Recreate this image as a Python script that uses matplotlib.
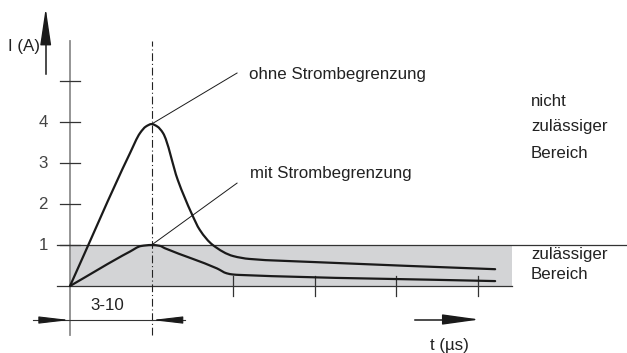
import matplotlib
matplotlib.use("Agg")
import matplotlib.pyplot as plt
from matplotlib import font_manager
from matplotlib.path import Path
from matplotlib.patches import PathPatch

# Current pulse without current limiting (t in units of the sketch, I in A)
t_ohne = [0.0, 0.735, 0.858, 0.93, 1.0, 1.07, 1.14, 1.32,
          1.49, 1.59, 1.75, 2.0, 2.2, 2.98, 5.21]
I_ohne = [0.0, 3.24, 3.73, 3.89, 3.95, 3.89, 3.73, 2.59,
          1.77, 1.37, 1.00, 0.73, 0.66, 0.585, 0.41]

# Current pulse with current limiting
t_mit = [0.0, 0.735, 0.87, 1.0, 1.10, 1.164, 1.50, 1.80, 1.92, 2.0, 2.08, 5.21]
I_mit = [0.0, 0.84, 0.975, 1.0, 0.98, 0.92, 0.665, 0.43, 0.31, 0.28, 0.27, 0.12]

# Axis ticks
I_ticks = [1, 2, 3, 4, 5]
I_tick_labels = ["1", "2", "3", "4", ""]
t_ticks = [2, 3, 4, 5]

t_peak = 1.0          # time of the peak (3-10 µs)
I_limit = 1.0         # upper limit of the permitted region
t_region_end = 5.42   # right end of the shaded region

available = {f.name for f in font_manager.fontManager.ttflist}
if "Liberation Sans Narrow" in available:
    FONT, FS = "Liberation Sans Narrow", 14.2
else:
    FONT, FS = "Liberation Sans", 12.2
TXT = "#222222"


def smooth_path(xs, ys):
    """Monotone cubic (PCHIP-style) Bezier path through every given point."""
    n = len(xs)
    h = [xs[k + 1] - xs[k] for k in range(n - 1)]
    d = [(ys[k + 1] - ys[k]) / h[k] for k in range(n - 1)]
    m = [0.0] * n
    m[0], m[-1] = d[0], d[-1]
    for k in range(1, n - 1):
        if d[k - 1] * d[k] <= 0:
            m[k] = 0.0
        else:
            w1 = 2 * h[k] + h[k - 1]
            w2 = h[k] + 2 * h[k - 1]
            m[k] = (w1 + w2) / (w1 / d[k - 1] + w2 / d[k])
    verts = [(xs[0], ys[0])]
    codes = [Path.MOVETO]
    for k in range(n - 1):
        verts += [(xs[k] + h[k] / 3, ys[k] + m[k] * h[k] / 3),
                  (xs[k + 1] - h[k] / 3, ys[k + 1] - m[k + 1] * h[k] / 3),
                  (xs[k + 1], ys[k + 1])]
        codes += [Path.CURVE4] * 3
    return Path(verts, codes)


fig = plt.figure(figsize=(6.27, 3.53), dpi=100)
ax = fig.add_axes([0, 0, 1, 1])
ax.set_xlim(-0.858, 6.826)
ax.set_ylim(-1.634, 6.976)
ax.axis("off")

# permitted region
ax.fill_between([0, t_region_end], 0, I_limit, color="#d3d4d6", lw=0, zorder=0)
ax.plot([-0.16, t_region_end], [0, 0], color="#333333", lw=0.9, zorder=2)
ax.plot([-0.16, 7.0], [I_limit, I_limit], color="#333333", lw=0.9, zorder=2)

# vertical gray axis and y ticks
ax.plot([0, 0], [-1.2, 5.98], color="#8c8c8c", lw=1.3, zorder=1)
for yv, lab in zip(I_ticks, I_tick_labels):
    ax.plot([-0.1225, 0.1225], [yv, yv], color="#333333", lw=0.9, zorder=2)
    if lab:
        ax.text(-0.27, yv, lab, ha="right", va="center", fontsize=FS,
                family=FONT, color="#444444")

# t ticks crossing the zero line
for tv in t_ticks:
    ax.plot([tv, tv], [-0.24, 0.24], color="#333333", lw=0.9, zorder=2)

# dash-dot line at the peak time
ax.plot([t_peak, t_peak], [-1.2, 5.98], color="#222222", lw=0.8,
        linestyle=(0, (7, 2.5, 1, 2.5)), zorder=2)

# curves
for xs, ys in ((t_ohne, I_ohne), (t_mit, I_mit)):
    ax.add_patch(PathPatch(smooth_path(xs, ys), facecolor="none",
                           edgecolor="#1a1a1a", lw=1.6, joinstyle="round",
                           capstyle="round", zorder=3))

# leader lines and labels
ax.plot([1.0, 2.047], [3.95, 5.195], color="#1a1a1a", lw=0.7, zorder=3)
ax.plot([1.0, 2.047], [1.0, 2.51], color="#1a1a1a", lw=0.7, zorder=3)
ax.text(2.19, 5.05, "ohne Strombegrenzung", ha="left", va="baseline",
        fontsize=FS, family=FONT, color=TXT)
ax.text(2.206, 2.63, "mit Strombegrenzung", ha="left", va="baseline",
        fontsize=FS, family=FONT, color=TXT)

for yb, s in zip([4.40, 3.77, 3.13], ["nicht", "zulässiger", "Bereich"]):
    ax.text(5.65, yb, s, ha="left", va="baseline", fontsize=FS, family=FONT, color=TXT)
for yb, s in zip([0.65, 0.16], ["zulässiger", "Bereich"]):
    ax.text(5.65, yb, s, ha="left", va="baseline", fontsize=FS, family=FONT, color=TXT)

# I axis arrow
ax.plot([-0.298, -0.298], [5.17, 6.2], color="#1a1a1a", lw=1.1)
ax.annotate("", xy=(-0.298, 6.78), xytext=(-0.298, 6.0),
            arrowprops=dict(arrowstyle="-|>,head_length=23,head_width=3.4",
                            mutation_scale=1, color="#1a1a1a", lw=1.0,
                            shrinkA=0, shrinkB=0))
ax.text(-0.368, 5.83, "I (A)", ha="right", va="center", fontsize=FS,
        family=FONT, color=TXT)

# dimension 3-10
ax.plot([-0.453, 1.41], [-0.83, -0.83], color="#333333", lw=0.8)
ax.annotate("", xy=(-0.005, -0.83), xytext=(-0.33, -0.83),
            arrowprops=dict(arrowstyle="-|>,head_length=18.7,head_width=2.2",
                            mutation_scale=1, color="#1a1a1a", lw=0.8,
                            shrinkA=0, shrinkB=0))
ax.annotate("", xy=(1.005, -0.83), xytext=(1.31, -0.83),
            arrowprops=dict(arrowstyle="-|>,head_length=18.7,head_width=2.2",
                            mutation_scale=1, color="#1a1a1a", lw=0.8,
                            shrinkA=0, shrinkB=0))
ax.text(0.46, -0.585, "3-10", ha="center", va="baseline", fontsize=FS,
        family=FONT, color=TXT)

# time arrow
ax.plot([4.23, 4.7], [-0.817, -0.817], color="#1a1a1a", lw=1.1)
ax.annotate("", xy=(5.02, -0.817), xytext=(4.6, -0.817),
            arrowprops=dict(arrowstyle="-|>,head_length=23,head_width=3.2",
                            mutation_scale=1, color="#1a1a1a", lw=1.0,
                            shrinkA=0, shrinkB=0))
ax.text(4.645, -1.56, "t (µs)", ha="center", va="baseline", fontsize=FS,
        family=FONT, color=TXT)

fig.savefig("out.png", dpi=100, facecolor="white")
